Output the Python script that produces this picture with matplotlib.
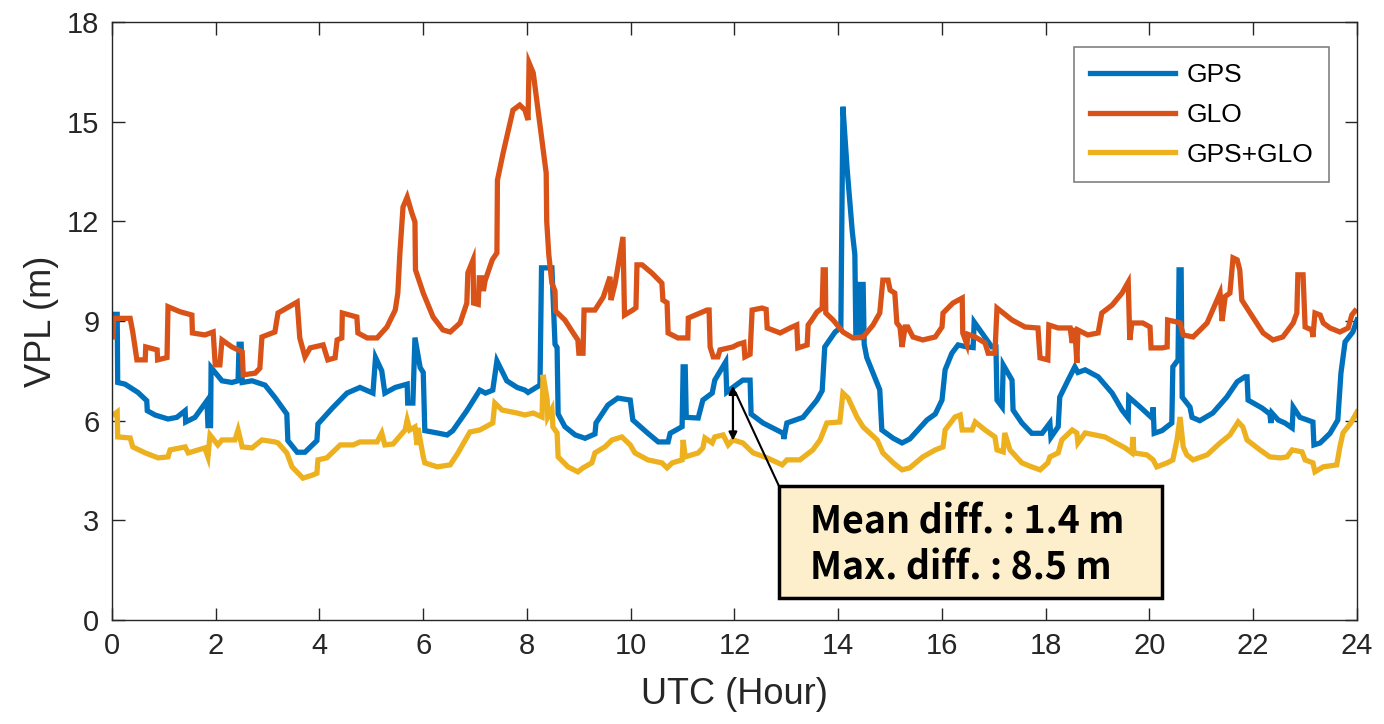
import numpy as np
import matplotlib
matplotlib.use("Agg")
import matplotlib.pyplot as plt
from matplotlib.patches import Rectangle

plt.rcParams['font.family'] = ['Liberation Sans', 'DejaVu Sans']

# (hour, VPL m)
gps_pts = [
    (0.05, 9.2), (0.1, 9.2), (0.11, 7.15), (0.25, 7.1), (0.5, 6.85), (0.67, 6.6), (0.68, 6.3),
    (0.83, 6.17), (1.08, 6.05), (1.25, 6.1), (1.41, 6.3), (1.42, 5.96), (1.6, 6.1), (1.83, 6.6),
    (1.85, 5.85), (1.9, 5.85), (1.91, 7.6), (2.12, 7.2), (2.31, 7.15), (2.43, 7.2), (2.45, 8.3),
    (2.49, 8.3), (2.51, 7.15), (2.7, 7.2), (2.95, 7.07), (3.14, 6.7), (3.37, 6.2), (3.39, 5.4),
    (3.57, 5.05), (3.72, 5.05), (3.95, 5.4), (3.97, 5.9), (4.26, 6.4), (4.53, 6.83), (4.78, 7.0),
    (5.03, 6.83), (5.08, 7.9), (5.2, 7.5), (5.26, 6.83), (5.46, 7.0), (5.69, 7.1), (5.7, 6.53),
    (5.8, 6.53), (5.84, 8.5), (5.94, 7.6), (6.0, 7.45), (6.03, 5.7), (6.27, 5.63), (6.46, 5.57),
    (6.57, 5.7), (6.84, 6.3), (7.09, 6.92), (7.2, 6.83), (7.34, 6.92), (7.42, 7.8), (7.61, 7.2),
    (7.81, 7.0), (7.96, 6.92), (8.02, 6.85), (8.25, 7.07), (8.28, 10.6), (8.48, 10.6), (8.54, 8.3),
    (8.58, 8.2), (8.6, 6.2), (8.73, 5.82), (8.93, 5.57), (9.12, 5.47), (9.31, 5.6), (9.33, 5.93),
    (9.56, 6.47), (9.75, 6.68), (9.99, 6.62), (10.04, 6.02), (10.33, 5.62), (10.53, 5.36),
    (10.72, 5.36), (10.76, 5.62), (10.99, 5.82), (11.01, 7.62), (11.05, 7.62), (11.07, 6.1),
    (11.3, 6.08), (11.39, 6.62), (11.57, 6.83), (11.62, 7.22), (11.83, 7.77), (11.85, 6.86),
    (12.01, 7.05), (12.16, 7.22), (12.3, 7.22), (12.32, 6.2), (12.55, 5.93), (12.94, 5.62),
    (12.95, 5.45), (13.01, 5.93), (13.32, 6.1), (13.59, 6.62), (13.69, 6.9), (13.74, 8.22),
    (13.94, 8.67), (14.05, 8.8), (14.09, 15.45), (14.17, 13.6), (14.27, 11.7), (14.32, 11.0),
    (14.34, 8.5), (14.4, 8.5), (14.42, 10.1), (14.48, 10.1), (14.5, 8.3), (14.55, 7.9),
    (14.8, 6.93), (14.84, 5.72), (15.06, 5.47), (15.23, 5.33), (15.38, 5.45), (15.71, 6.02),
    (15.87, 6.2), (16.0, 6.62), (16.06, 7.53), (16.19, 8.03), (16.31, 8.28), (16.48, 8.22),
    (16.6, 8.2), (16.62, 8.97), (16.77, 8.64), (16.96, 8.22), (17.04, 8.22), (17.06, 6.62),
    (17.16, 6.41), (17.18, 7.68), (17.35, 7.22), (17.37, 6.32), (17.54, 5.93), (17.73, 5.62),
    (17.93, 5.62), (18.08, 5.93), (18.1, 5.5), (18.24, 5.82), (18.27, 6.71), (18.43, 7.22),
    (18.56, 7.62), (18.62, 7.45), (18.76, 7.53), (19.01, 7.32), (19.28, 6.83), (19.47, 6.32),
    (19.59, 6.08), (19.6, 6.71), (19.82, 6.41), (20.05, 6.08), (20.07, 6.4), (20.09, 5.62),
    (20.24, 5.7), (20.43, 5.93), (20.45, 7.62), (20.55, 7.83), (20.57, 10.54), (20.61, 10.54),
    (20.63, 6.71), (20.78, 6.41), (20.82, 6.1), (20.97, 6.0), (21.22, 6.23), (21.49, 6.71),
    (21.69, 7.17), (21.84, 7.32), (21.88, 7.32), (21.9, 6.62), (22.17, 6.38), (22.32, 6.2),
    (22.34, 5.93), (22.36, 6.23), (22.48, 6.02), (22.61, 5.93), (22.75, 5.78), (22.77, 6.41),
    (22.9, 6.1), (23.15, 5.96), (23.17, 5.27), (23.29, 5.33), (23.48, 5.62), (23.63, 6.02),
    (23.69, 7.43), (23.77, 8.37), (23.92, 8.67), (24.0, 9.03),
]

glo_pts = [
    (0.02, 8.52), (0.03, 9.08), (0.35, 9.08), (0.40, 8.67), (0.48, 7.83), (0.64, 7.83), (0.65, 8.22),
    (0.87, 8.13), (0.88, 7.83), (1.06, 7.9), (1.08, 9.43), (1.31, 9.28), (1.54, 9.18), (1.55, 8.64),
    (1.79, 8.58), (1.95, 8.67), (1.99, 7.68), (2.08, 7.68), (2.12, 8.43), (2.31, 8.22), (2.51, 8.07),
    (2.53, 7.38), (2.76, 7.43), (2.85, 7.58), (2.89, 8.52), (3.14, 8.67), (3.20, 9.24), (3.57, 9.57),
    (3.62, 8.49), (3.72, 7.92), (3.82, 8.19), (4.07, 8.28), (4.16, 7.83), (4.30, 7.89), (4.34, 8.43),
    (4.43, 8.49), (4.44, 9.24), (4.72, 9.12), (4.74, 8.64), (4.92, 8.49), (5.11, 8.49), (5.30, 8.82),
    (5.46, 9.33), (5.51, 9.84), (5.55, 11.05), (5.61, 12.43), (5.69, 12.73), (5.78, 12.25),
    (5.84, 11.98), (5.85, 10.54), (6.00, 9.84), (6.19, 9.12), (6.38, 8.73), (6.52, 8.67),
    (6.71, 8.94), (6.84, 9.54), (6.86, 10.45), (6.96, 10.84), (6.97, 9.54), (7.06, 9.5),
    (7.08, 10.3), (7.14, 10.3), (7.16, 9.9), (7.19, 10.2), (7.33, 10.84), (7.42, 11.05),
    (7.43, 13.24), (7.54, 14.06), (7.73, 15.35), (7.86, 15.5), (7.96, 15.35), (8.02, 15.05),
    (8.04, 16.77), (8.12, 16.47), (8.37, 13.45), (8.38, 12.0), (8.42, 11.0), (8.48, 10.14),
    (8.54, 9.9), (8.55, 9.3), (8.73, 9.03), (8.89, 8.64), (8.98, 8.43), (9.0, 8.03), (9.08, 8.03),
    (9.10, 9.33), (9.31, 9.33), (9.47, 9.72), (9.60, 10.33), (9.62, 9.63), (9.70, 10.14),
    (9.85, 11.53), (9.88, 9.18), (10.04, 9.33), (10.10, 9.4), (10.12, 10.69), (10.22, 10.69),
    (10.41, 10.44), (10.60, 10.14), (10.62, 9.63), (10.70, 9.55), (10.72, 8.64), (10.91, 8.49),
    (11.10, 8.49), (11.11, 9.09), (11.47, 9.33), (11.51, 9.33), (11.53, 8.22), (11.59, 7.92),
    (11.68, 7.92), (11.72, 8.13), (11.97, 8.22), (12.07, 8.3), (12.18, 8.35), (12.20, 7.92),
    (12.30, 8.0), (12.34, 9.33), (12.53, 9.39), (12.61, 9.35), (12.63, 8.79), (12.88, 8.64),
    (13.07, 8.79), (13.20, 8.88), (13.22, 8.19), (13.40, 8.28), (13.42, 8.88), (13.49, 9.03),
    (13.59, 9.27), (13.69, 9.39), (13.71, 10.54), (13.75, 10.54), (13.76, 9.24), (13.90, 9.03),
    (14.09, 8.67), (14.28, 8.49), (14.48, 8.52), (14.67, 8.88), (14.80, 9.24), (14.86, 10.23),
    (14.96, 10.23), (15.00, 9.93), (15.09, 9.84), (15.13, 8.94), (15.19, 8.82), (15.23, 8.22),
    (15.29, 8.82), (15.34, 8.82), (15.44, 8.52), (15.63, 8.43), (15.87, 8.52), (16.00, 8.82),
    (16.02, 9.24), (16.21, 9.54), (16.39, 9.69), (16.40, 8.64), (16.48, 8.3), (16.5, 8.6),
    (16.64, 8.52), (16.83, 8.34), (16.89, 8.03), (17.02, 8.03), (17.06, 9.39), (17.35, 9.03),
    (17.60, 8.82), (17.85, 8.79), (17.89, 7.89), (18.04, 7.83), (18.06, 8.88), (18.24, 8.79),
    (18.47, 8.79), (18.51, 8.34), (18.56, 8.79), (18.60, 7.74), (18.62, 8.73), (18.81, 8.58),
    (19.01, 8.64), (19.08, 9.24), (19.28, 9.48), (19.47, 9.84), (19.59, 10.17), (19.62, 8.43),
    (19.66, 8.94), (19.87, 8.94), (20.01, 8.82), (20.03, 8.19), (20.24, 8.19), (20.34, 8.22),
    (20.35, 9.03), (20.53, 8.97), (20.59, 8.94), (20.65, 8.58), (20.84, 8.52), (21.11, 8.94),
    (21.30, 9.63), (21.36, 9.84), (21.40, 9.0), (21.46, 9.74), (21.55, 9.84), (21.61, 10.9),
    (21.69, 10.84), (21.74, 10.54), (21.78, 9.63), (21.94, 9.24), (22.19, 8.64), (22.38, 8.43),
    (22.57, 8.52), (22.77, 8.94), (22.84, 9.24), (22.86, 10.39), (22.96, 10.39), (23.00, 8.82),
    (23.13, 8.73), (23.15, 8.52), (23.19, 9.24), (23.29, 9.18), (23.35, 8.94), (23.48, 8.79),
    (23.67, 8.67), (23.83, 8.79), (23.90, 9.18), (23.96, 9.3),
]

both_pts = [
    (0.05, 6.2), (0.1, 6.26), (0.11, 5.51), (0.35, 5.48), (0.40, 5.21), (0.64, 5.03), (0.89, 4.88),
    (1.08, 4.91), (1.12, 5.12), (1.41, 5.21), (1.47, 5.03), (1.79, 5.18), (1.85, 4.91), (1.89, 5.57),
    (2.04, 5.27), (2.12, 5.42), (2.37, 5.42), (2.43, 5.72), (2.51, 5.21), (2.70, 5.18), (2.89, 5.42),
    (3.14, 5.36), (3.20, 5.33), (3.37, 5.03), (3.47, 4.61), (3.68, 4.27), (3.86, 4.36), (3.95, 4.42),
    (3.97, 4.82), (4.14, 4.88), (4.40, 5.27), (4.65, 5.27), (4.78, 5.36), (5.11, 5.36), (5.20, 5.63),
    (5.26, 5.27), (5.42, 5.3), (5.65, 5.72), (5.69, 6.02), (5.74, 5.72), (5.84, 5.81), (5.88, 5.27),
    (5.9, 5.78), (6.00, 4.91), (6.03, 4.73), (6.27, 4.61), (6.52, 4.67), (6.67, 5.03), (6.90, 5.66),
    (7.09, 5.72), (7.34, 5.93), (7.38, 6.53), (7.52, 6.32), (7.81, 6.23), (7.96, 6.17), (8.12, 6.23),
    (8.29, 6.11), (8.31, 7.38), (8.39, 6.62), (8.40, 6.11), (8.48, 6.35), (8.50, 5.81), (8.58, 5.63),
    (8.60, 4.91), (8.79, 4.61), (8.98, 4.46), (9.08, 4.58), (9.25, 4.73), (9.31, 5.03), (9.50, 5.21),
    (9.64, 5.42), (9.83, 5.51), (9.99, 5.27), (10.08, 5.03), (10.33, 4.82), (10.60, 4.73),
    (10.70, 4.58), (10.80, 4.73), (10.99, 4.82), (11.01, 5.42), (11.05, 4.91), (11.30, 5.03),
    (11.39, 5.18), (11.43, 5.48), (11.57, 5.33), (11.62, 5.51), (11.78, 5.57), (11.88, 5.27),
    (11.97, 5.42), (12.16, 5.33), (12.36, 5.03), (12.63, 4.88), (12.92, 4.67), (13.01, 4.82),
    (13.26, 4.82), (13.51, 5.12), (13.65, 5.42), (13.78, 5.93), (14.03, 5.96), (14.09, 6.83),
    (14.19, 6.68), (14.28, 6.38), (14.36, 6.11), (14.48, 5.81), (14.75, 5.42), (14.86, 5.03),
    (15.06, 4.73), (15.23, 4.52), (15.38, 4.58), (15.63, 4.91), (15.87, 5.12), (16.02, 5.21),
    (16.06, 5.72), (16.25, 6.11), (16.35, 6.17), (16.39, 5.72), (16.58, 5.72), (16.64, 5.96),
    (16.83, 5.72), (17.02, 5.51), (17.06, 5.12), (17.18, 5.06), (17.21, 5.63), (17.31, 5.12),
    (17.54, 4.73), (17.73, 4.61), (17.89, 4.52), (18.04, 4.73), (18.08, 4.91), (18.24, 5.03),
    (18.31, 5.42), (18.51, 5.72), (18.60, 5.63), (18.62, 5.33), (18.76, 5.63), (19.14, 5.51),
    (19.53, 5.18), (19.66, 5.03), (19.68, 5.51), (19.70, 5.03), (19.95, 4.97), (20.07, 4.82),
    (20.14, 4.61), (20.34, 4.73), (20.45, 4.82), (20.53, 5.42), (20.59, 6.11), (20.65, 5.21),
    (20.72, 4.97), (20.84, 4.82), (21.11, 4.97), (21.36, 5.33), (21.55, 5.57), (21.71, 5.96),
    (21.80, 5.81), (21.88, 5.42), (22.13, 5.12), (22.32, 4.91), (22.52, 4.88), (22.65, 4.91),
    (22.75, 5.12), (22.94, 5.06), (23.00, 4.82), (23.15, 4.73), (23.19, 4.46), (23.35, 4.61),
    (23.61, 4.67), (23.67, 5.21), (23.73, 5.63), (23.88, 5.93), (24.0, 6.26),
]

labels = ['GPS', 'GLO', 'GPS+GLO']
colors = ['#0072BD', '#D95319', '#EDB120']
x_ticks = np.arange(0, 25, 2)
y_ticks = np.arange(0, 19, 3)
note_lines = ['Mean diff. : 1.4 m', 'Max. diff. : 8.5 m']

fig = plt.figure(figsize=(13.84, 7.24), dpi=100)
ax = fig.add_axes([112/1384, 104/724, 1245/1384, 598/724])

for pts, lab, col in zip([gps_pts, glo_pts, both_pts], labels, colors):
    arr = np.array(pts)
    ax.plot(arr[:, 0], arr[:, 1], color=col, lw=3.8, label=lab, solid_joinstyle='miter')

ax.set_xlim(0, 24)
ax.set_ylim(0, 18)
ax.set_xticks(x_ticks)
ax.set_yticks(y_ticks)
ax.tick_params(direction='in', length=9, width=1, labelsize=21, colors='#262626',
               top=True, right=True, pad=9)
for s in ax.spines.values():
    s.set_color('#262626')
    s.set_linewidth(1.0)
ax.set_xlabel('UTC (Hour)', fontsize=26, color='#262626', labelpad=12)
ax.set_ylabel('VPL (m)', fontsize=26, color='#262626', labelpad=6)

leg = ax.legend(loc='upper right', bbox_to_anchor=(0.9775, 0.958), fontsize=19,
                handlelength=3.2, handletextpad=0.45, labelspacing=0.6,
                fancybox=False, framealpha=1, borderpad=0.6, borderaxespad=0)
leg.get_frame().set_edgecolor('#808080')
leg.get_frame().set_linewidth(1.2)

# difference arrow and note box
ax.annotate('', xy=(11.97, 7.05), xytext=(11.97, 5.4),
            arrowprops=dict(arrowstyle='<|-|>', color='black', lw=1.6, mutation_scale=12,
                            shrinkA=0, shrinkB=0))
ax.annotate('', xy=(12.02, 6.85), xytext=(0.5357, 0.2241), textcoords='axes fraction',
            arrowprops=dict(arrowstyle='-', color='black', lw=1.5, shrinkA=0, shrinkB=0))
ax.add_patch(Rectangle((0.5357, 0.0368), 0.3077, 0.1873, transform=ax.transAxes,
                       facecolor='#FDEFCB', edgecolor='black', lw=2.5, zorder=5))
for txt, yy in zip(note_lines, [0.164, 0.087]):
    ax.text(0.561, yy, txt, transform=ax.transAxes, fontsize=27,
            fontweight='bold', va='center', ha='left', zorder=6,
            family=['Noto Sans CJK KR', 'DejaVu Sans'])

fig.savefig('out.png', dpi=100)
